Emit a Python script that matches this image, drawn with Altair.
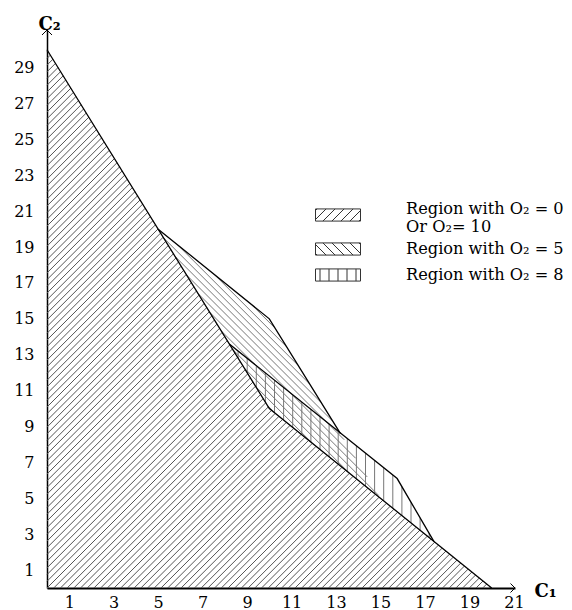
import altair as alt
import numpy as np
import pandas as pd

# ---------------- data ----------------
x_ticks = list(range(1, 22, 2))
y_ticks = list(range(1, 30, 2))

# hatched regions (vertices in C1, C2 units)
main_x = [0, 0, 10, 20]
main_y = [0, 30, 10, 0]
o5_x = [5, 10, 15, 10]
o5_y = [20, 15, 5, 10]
o8_x = [8.2, 15.75, 17.4, 10]
o8_y = [13.6, 6.1, 2.6, 10]

# black boundary lines
outer_x = [0, 10, 20]
outer_y = [30, 10, 0]
upper_x = [5, 10, 13.2]
upper_y = [20, 15, 8.6]
middle_x = [8.2, 15.75, 17.4]
middle_y = [13.6, 6.1, 2.6]

legend_names = ["Region with O₂ = 0|Or O₂= 10", "Region with O₂ = 5", "Region with O₂ = 8"]

# ---------------- geometry / style ----------------
XMAX = 21.05
YMAX = 31.1
W = 468
H = 558
SX = W / XMAX
SY = H / YMAX
FONT = "DejaVu Serif"


def clip_hatch(px, py, angle_deg, spacing):
    a = np.radians(angle_deg)
    d = np.array([np.cos(a), np.sin(a)])
    n = np.array([-np.sin(a), np.cos(a)])
    pts = np.column_stack([px, py]).astype(float)
    proj = pts @ n
    k0 = int(np.floor(proj.min() / spacing))
    k1 = int(np.ceil(proj.max() / spacing))
    segs = []
    m = len(pts)
    for k in range(k0, k1 + 1):
        s = k * spacing
        ts = []
        for i in range(m):
            A = pts[i]
            B = pts[(i + 1) % m]
            fa = A @ n - s
            fb = B @ n - s
            if fa == fb:
                continue
            if (fa <= 0 <= fb) or (fb <= 0 <= fa):
                q = A + (B - A) * fa / (fa - fb)
                ts.append(q @ d)
        if len(ts) >= 2:
            t0, t1 = min(ts), max(ts)
            if t1 - t0 > 1e-6:
                segs.append((s * n + t0 * d, s * n + t1 * d))
    return segs


def hatch_df(xs, ys, angle, spacing):
    px = [v * SX for v in xs]
    py = [v * SY for v in ys]
    rows = []
    for p0, p1 in clip_hatch(px, py, angle, spacing):
        rows.append({"x": p0[0] / SX, "y": p0[1] / SY, "x2": p1[0] / SX, "y2": p1[1] / SY})
    return pd.DataFrame(rows)


def symbol_path(angle, spacing, dy_px=0.0):
    hh = 0.27
    off = dy_px / 22.5
    segs = clip_hatch([-1, 1, 1, -1], [-hh, -hh, hh, hh], angle, spacing)
    p = f"M-1,{-hh + off:.3f}H1V{hh + off:.3f}H-1Z"
    for p0, p1 in segs:
        p += f"M{p0[0]:.3f},{-p0[1] + off:.3f}L{p1[0]:.3f},{-p1[1] + off:.3f}"
    return p


legend_paths = [symbol_path(45, 0.283, 6), symbol_path(-45, 0.283), symbol_path(90, 0.4)]

xenc = alt.X("x:Q", scale=alt.Scale(domain=[0, XMAX], nice=False, zero=False),
             axis=alt.Axis(values=x_ticks, title="C₁", titleX=W + 30, titleY=3,
                           titleAlign="center", titleBaseline="middle",
                           domainWidth=2, labelPadding=6))
yenc = alt.Y("y:Q", scale=alt.Scale(domain=[0, YMAX], nice=False, zero=False),
             axis=alt.Axis(values=y_ticks, title="C₂", titleAngle=0, titleX=2, titleY=-6,
                           titleAlign="center", titleBaseline="middle",
                           domainWidth=1.5, labelPadding=13))

main_h = alt.Chart(hatch_df(main_x, main_y, 45, 4.74)).mark_rule(
    color="#555", strokeWidth=1).encode(x=xenc, y=yenc, x2="x2:Q", y2="y2:Q")
o5_h = alt.Chart(hatch_df(o5_x, o5_y, -45, 5.0)).mark_rule(
    color="#777", strokeWidth=1).encode(x=xenc, y=yenc, x2="x2:Q", y2="y2:Q")
o8_h = alt.Chart(hatch_df(o8_x, o8_y, 90, 9.1)).mark_rule(
    color="#777", strokeWidth=1).encode(x=xenc, y=yenc, x2="x2:Q", y2="y2:Q")

rows = []
for sid, (lx, ly) in enumerate([(outer_x, outer_y), (upper_x, upper_y), (middle_x, middle_y)]):
    for i, (a, b) in enumerate(zip(lx, ly)):
        rows.append({"x": a, "y": b, "seg": sid, "ord": i})
outline = alt.Chart(pd.DataFrame(rows)).mark_line(color="black", strokeWidth=1.3).encode(
    x=xenc, y=yenc, detail="seg:N", order="ord:Q")

x_arrow = alt.Chart(pd.DataFrame({"x": [XMAX], "y": [0]})).mark_point(
    shape="M-1,-1L0,0L-1,1", size=81, filled=False, color="black", strokeWidth=1, opacity=1
).encode(x=xenc, y=yenc)
y_arrow = alt.Chart(pd.DataFrame({"x": [0], "y": [YMAX]})).mark_point(
    shape="M-1,1L0,0L1,1", size=100, filled=False, color="black", strokeWidth=1, opacity=1
).encode(x=xenc, y=yenc)

legend_layer = alt.Chart(pd.DataFrame({"region": legend_names})).mark_point(
    filled=False, opacity=0, size=2025).encode(
    x=alt.value(0), y=alt.value(0),
    shape=alt.Shape("region:N", scale=alt.Scale(domain=legend_names, range=legend_paths),
                    legend=alt.Legend(title=None, orient="none", legendX=268, legendY=166,
                                      symbolSize=2025, symbolOpacity=1,
                                      symbolStrokeColor="#333", symbolStrokeWidth=1,
                                      symbolFillColor="transparent",
                                      labelExpr="split(datum.label, '|')",
                                      labelFont=FONT, labelFontSize=16.2, labelColor="black",
                                      labelOffset=45, labelLimit=400, clipHeight=26,
                                      rowPadding=0, padding=0)))

chart = alt.layer(main_h, o5_h, o8_h, outline, x_arrow, y_arrow, legend_layer).properties(
    width=W, height=H, padding={"left": 5, "top": 7, "right": 0, "bottom": 0}
).configure_view(stroke=None).configure_axis(
    grid=False, ticks=False, domainColor="black", labelFont=FONT, labelFontSize=16,
    labelColor="black", titleFont=FONT, titleFontSize=18, titleFontWeight="bold",
    titleColor="black"
)

chart.save("out.html", embed_options={"renderer": "svg", "actions": False})
